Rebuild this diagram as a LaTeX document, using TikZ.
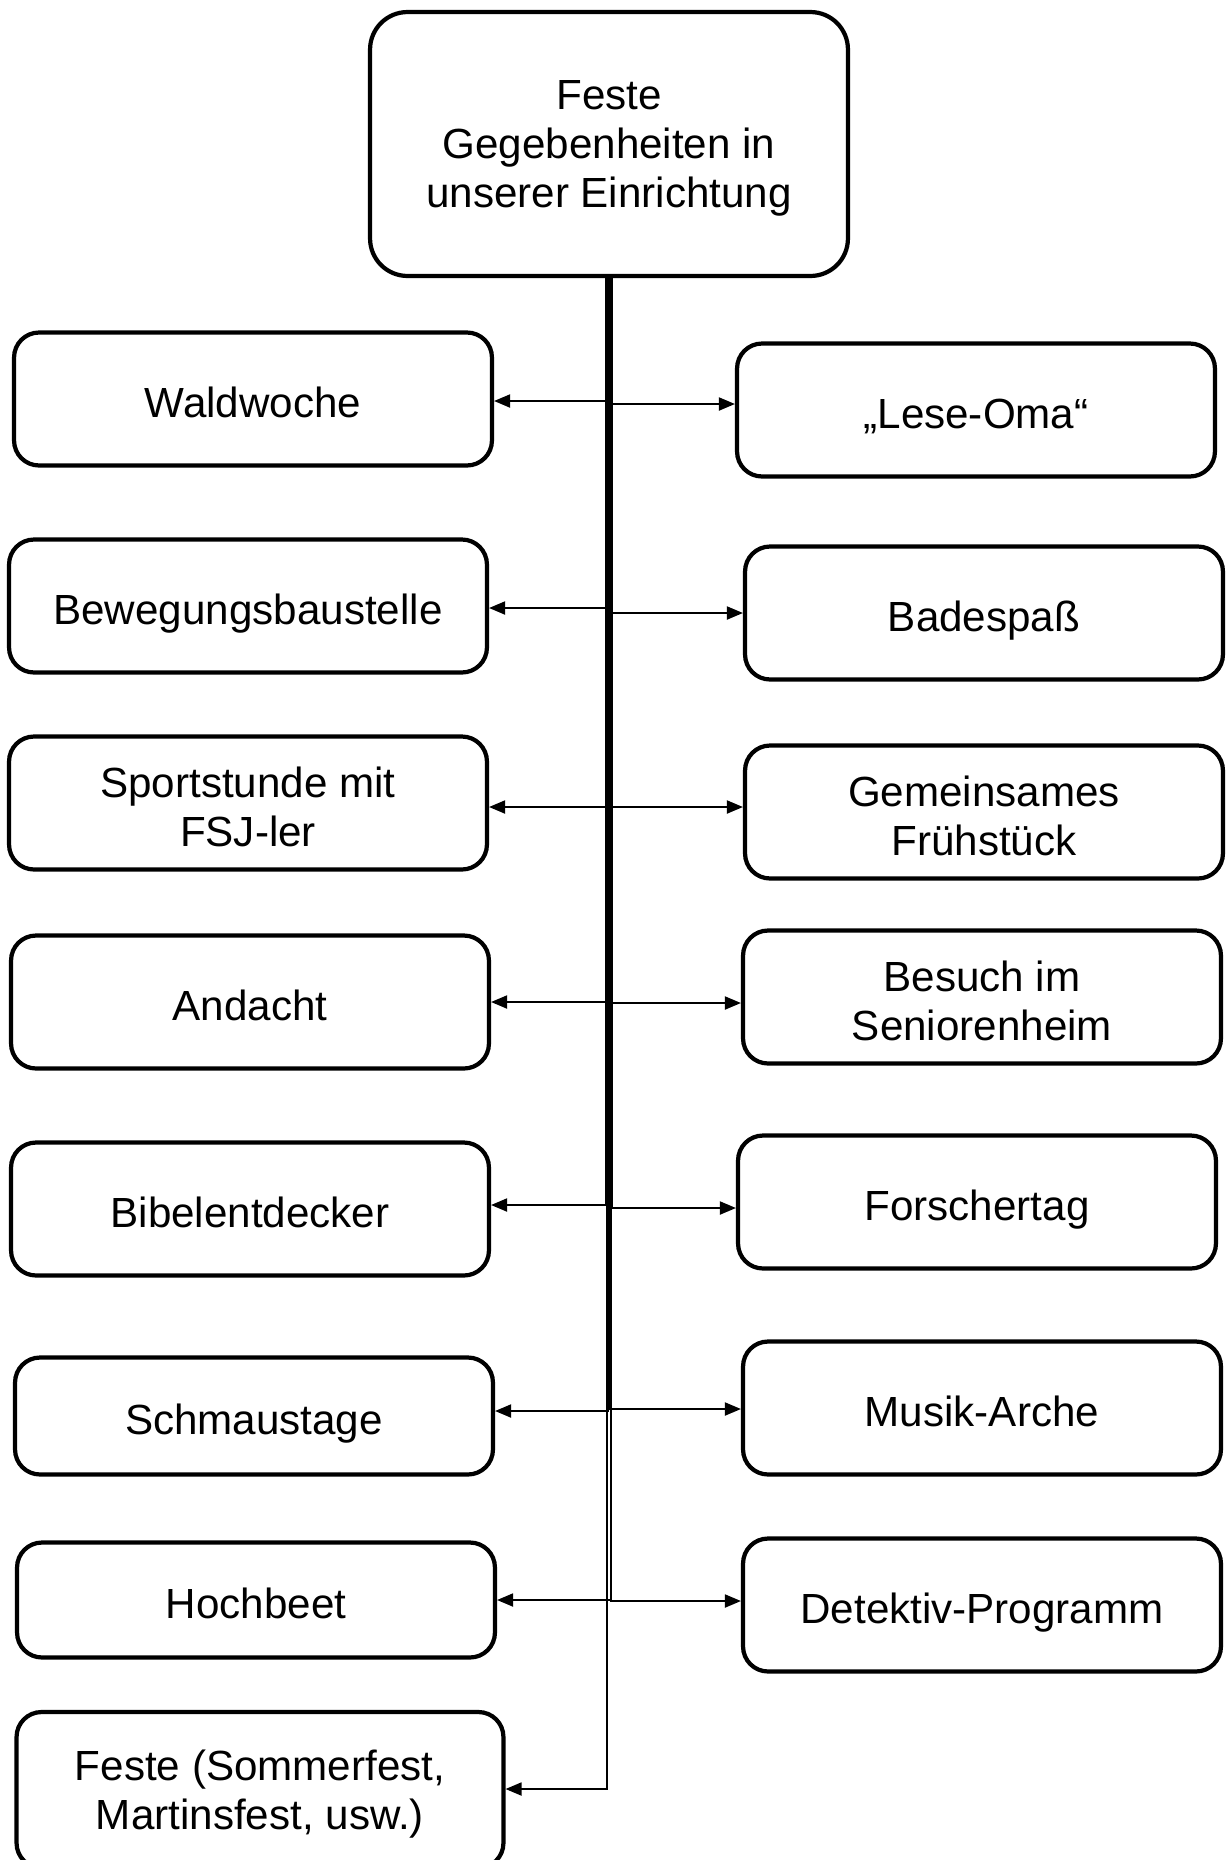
\documentclass[tikz,border=0pt]{standalone}
\usepackage{fontspec}
\setmainfont{Liberation Sans}
\usetikzlibrary{arrows.meta}
\newcommand\tallline{\rule{0pt}{21.6pt}}
\begin{document}
\begin{tikzpicture}
  [
    x=0.02cm, y=-0.02cm,
    every node/.style={font=\fontsize{24}{28}\selectfont, align=center},
    box/.style={draw, line width=2.4pt, rounded corners=0.5cm, minimum width=9.56cm, minimum height=2.66cm, inner sep=0pt,
                text depth=0pt, execute at begin node={\rule{0pt}{20.5pt}}},
    headbox/.style={box, rounded corners=0.75cm, minimum height=5.28cm},
    link/.style={line width=1.1pt, -{Triangle[length=0.32cm,width=0.26cm]}}
  ]
  \useasboundingbox (0,0) rectangle (1225,1860);
  % top
  \node [headbox] (top) at (609,144) {Feste\\Gegebenheiten in\\unserer Einrichtung};
  % left column
  \node [box] (wald) at (253,399) {Waldwoche};
  \node [box] (beweg) at (248,606) {Bewegungsbaustelle};
  \node [box] (sport) at (248,803) {\tallline Sportstunde mit\\FSJ-ler};
  \node [box] (andacht) at (250,1002) {Andacht};
  \node [box] (bibel) at (250,1209) {Bibelentdecker};
  \node [box, minimum height=2.34cm] (schmaus) at (254,1416) {Schmaustage};
  \node [box, minimum height=2.3cm] (hoch) at (256,1600) {Hochbeet};
  \node [box, minimum width=9.74cm, minimum height=3.12cm] (feste) at (260,1790) {Feste (Sommerfest,\\Martinsfest, usw.)};
  % right column
  \node [box] (lese) at (976,410) {„Lese-Oma“};
  \node [box] (bade) at (984,613) {Badespaß};
  \node [box] (frueh) at (984,812) {\tallline Gemeinsames\\Frühstück};
  \node [box] (besuch) at (982,997) {\tallline Besuch im\\Seniorenheim};
  \node [box] (forscher) at (977,1202) {Forschertag};
  \node [box] (musik) at (982,1408) {Musik-Arche};
  \node [box] (detektiv) at (982,1605) {Detektiv-Programm};
  % connectors (x offset, y offset in px, anchor)
  \foreach \n/\o/\s/\a in {wald/1/-2/east,lese/0/6/west,beweg/-1/-2/east,bade/1/0/west,
                           sport/-3/-4/east,frueh/3/5/west,andacht/-2/0/east,besuch/2/-6/west,
                           bibel/-3/4/east,forscher/3/-6/west,schmaus/-1/5/east,musik/1/-1/west,
                           hoch/2/0/east,detektiv/2/4/west,feste/-2/1/east} {
    \draw [link] ([xshift=\o*0.02cm]top.south) |- ([yshift=\s*0.02cm]\n.\a);
  }
\end{tikzpicture}
\end{document}
